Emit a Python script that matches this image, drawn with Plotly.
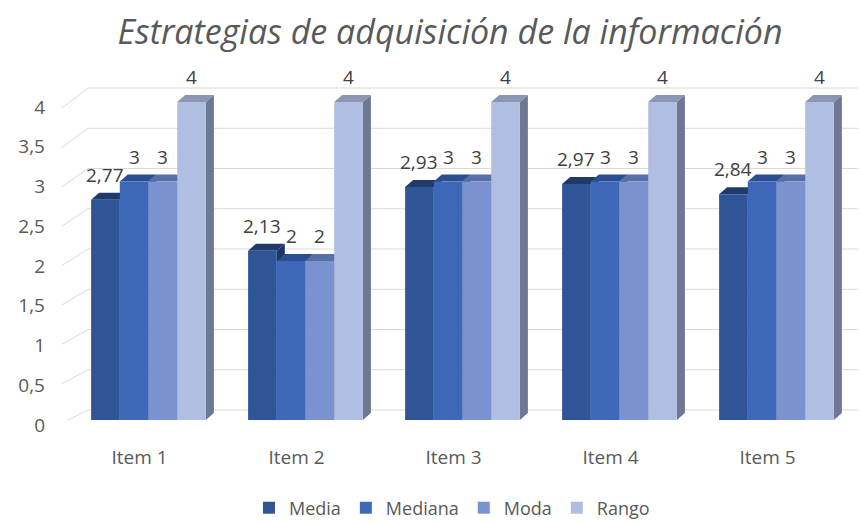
import plotly.graph_objects as go

items = ["Item 1", "Item 2", "Item 3", "Item 4", "Item 5"]
series = ["Media", "Mediana", "Moda", "Rango"]
media = [2.77, 2.13, 2.93, 2.97, 2.84]
mediana = [3, 2, 3, 3, 3]
moda = [3, 2, 3, 3, 3]
rango = [4, 4, 4, 4, 4]
values = [media, mediana, moda, rango]
y_ticks = [0, 0.5, 1, 1.5, 2, 2.5, 3, 3.5, 4]

front = ["#2F5597", "#3D68B8", "#7A92CF", "#B0BEE2"]
top = ["#1F3A6B", "#2B4E92", "#5A6EA8", "#8C96B4"]
side = ["#1C3563", "#284888", "#55689E", "#6E7893"]

W, H = 860, 523
ML, MR, MT, MB = 62, 2, 62, 103
PW, PH = W - ML - MR, H - MT - MB
PXX = 157.0
PXY = 79.5
X0 = -(148.5 - ML) / PXX
X1 = X0 + PW / PXX
YMAX = PH / PXY
BW = 28.7 / PXX
GW = 4 * BW
DX = 8 / PXX
DY = 7 / PXY

font = "Open Sans"
gray = "#595959"

fig = go.Figure()
xs = list(range(len(items)))
for k, name in enumerate(series):
    fig.add_trace(go.Bar(
        x=xs, y=values[k], name=name,
        marker=dict(color=front[k], line=dict(width=0)),
        width=BW,
    ))

shapes = []
# gridlines: slanted floor part + back wall
xb = (88 - ML) / PW
for v in y_ticks:
    yf = v - (3 + 0.75 * v) / PXY
    yb = v + (10 + v) / PXY
    shapes.append(dict(type="line", xref="paper", yref="y", x0=0, x1=xb, y0=yf, y1=yb,
                       line=dict(color="#D9D9D9", width=1), layer="below"))
    shapes.append(dict(type="line", xref="paper", yref="y", x0=xb, x1=1, y0=yb, y1=yb,
                       line=dict(color="#D9D9D9", width=1), layer="below"))

annotations = []
for i in xs:
    for k in range(len(series)):
        v = values[k][i]
        L = i - GW / 2 + k * BW
        R = L + BW
        shapes.append(dict(type="path", xref="x", yref="y", layer="below",
                           path=f"M{R},0 L{R},{v} L{R+DX},{v+DY} L{R+DX},{DY} Z",
                           fillcolor=side[k], line=dict(width=0)))
        shapes.append(dict(type="path", xref="x", yref="y", layer="below",
                           path=f"M{L},{v} L{R},{v} L{R+DX},{v+DY} L{L+DX},{v+DY} Z",
                           fillcolor=top[k], line=dict(width=0)))
        annotations.append(dict(x=L + BW / 2, y=v, xref="x", yref="y", yshift=25,
                                text=f"{v:g}".replace(".", ","), showarrow=False,
                                font=dict(family=font, size=19, color="#404040")))

fig.update_layout(
    width=W, height=H,
    margin=dict(l=ML, r=MR, t=MT, b=MB, autoexpand=False),
    paper_bgcolor="white", plot_bgcolor="white",
    barmode="group", bargap=1 - GW, bargroupgap=0,
    separators=",.",
    title=dict(text="Estrategias de adquisición de la información",
               x=(450 - ML) / PW, xref="paper", xanchor="center",
               y=1 - 32 / H, yref="container", yanchor="middle",
               font=dict(family=font, size=34, color=gray, style="italic")),
    xaxis=dict(range=[X0, X1], tickvals=xs, ticktext=items, showgrid=False,
               zeroline=False, showline=False, ticks="", ticklabelstandoff=24,
               ticklabelshift=-9, automargin=False,
               tickfont=dict(family=font, size=19, color=gray)),
    yaxis=dict(range=[0, YMAX], tickvals=y_ticks, showgrid=False, zeroline=False,
               showline=False, ticks="", ticklabelstandoff=16, ticklabelshift=5,
               automargin=False,
               tickfont=dict(family=font, size=19, color=gray)),
    legend=dict(orientation="h", x=(452 - ML) / PW, xanchor="center",
                y=-(508 - (MT + PH)) / PH, yanchor="middle",
                font=dict(family=font, size=18, color=gray)),
    shapes=shapes,
    annotations=annotations,
)

fig.write_html("out.html", post_script="document.body.style.margin='0';",
               config={"displayModeBar": False})
